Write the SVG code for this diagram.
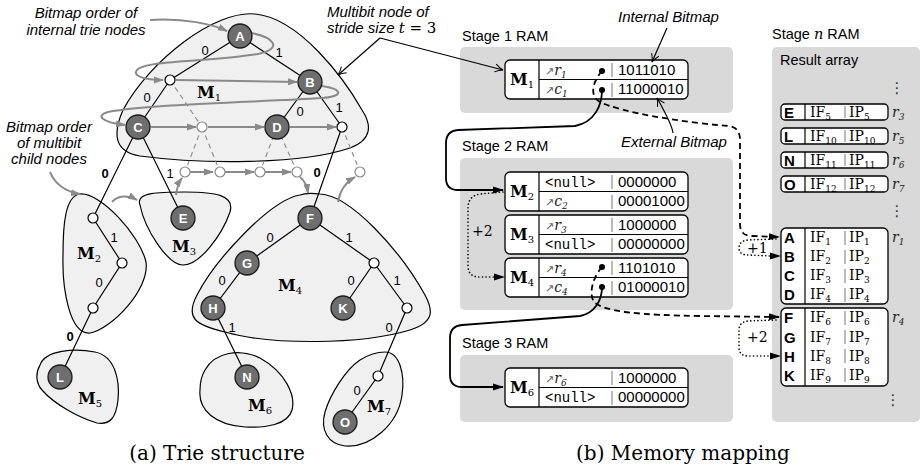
<svg xmlns="http://www.w3.org/2000/svg" width="922" height="471" viewBox="0 0 922 471">
<defs>
<marker id="ag" markerWidth="10" markerHeight="8" refX="9" refY="4" orient="auto" markerUnits="userSpaceOnUse"><path d="M0,0.5 L10,4 L0,7.5 z" fill="#8a8a8a"/></marker>
<marker id="ab" markerWidth="11" markerHeight="8" refX="10" refY="4" orient="auto" markerUnits="userSpaceOnUse"><path d="M0,0.5 L11,4 L0,7.5 z" fill="#000"/></marker>
<marker id="ao" markerWidth="10" markerHeight="10" refX="9" refY="5" orient="auto" markerUnits="userSpaceOnUse"><path d="M1,1 Q5,4 9,5 Q5,6 1,9" fill="none" stroke="#000" stroke-width="1"/></marker>
</defs>
<style>
.blob{fill:#f0f0f0;stroke:#000;stroke-width:1.2}
.n{fill:#6e6e6e;stroke:#1a1a1a;stroke-width:1.3}
.nt{font-family:"Liberation Sans",Arial,sans-serif;font-weight:bold;font-size:13px;fill:#fff;text-anchor:middle}
.s{fill:#fff;stroke:#000;stroke-width:1.2}
.sg{fill:#fff;stroke:#8a8a8a;stroke-width:1.2}
.e{stroke:#000;stroke-width:1.2;fill:none}
.ed{stroke:#8a8a8a;stroke-width:1.1;stroke-dasharray:5 4;fill:none}
.ga{stroke:#8a8a8a;stroke-width:2;fill:none;marker-end:url(#ag)}
.el{font-family:"Liberation Sans",Arial,sans-serif;font-size:13px;fill:#000;text-anchor:middle}
.ml{font-family:"DejaVu Serif",serif;font-weight:bold;font-size:16px;fill:#000}
.sub{font-size:10px;font-weight:normal}
.ann{font-family:"Liberation Sans",Arial,sans-serif;font-style:italic;font-size:15px;fill:#000}
.lab{font-family:"Liberation Sans",Arial,sans-serif;font-size:14.5px;fill:#000}
.cap{font-family:"DejaVu Serif",serif;font-size:20px;fill:#000}
.stage{fill:#d9d9d9}
.mb{fill:#fff;stroke:#000;stroke-width:1.3}
.bar{stroke:#777;stroke-width:1}
.bits{font-family:"Liberation Sans",Arial,sans-serif;font-size:15px;fill:#000}
.mono{font-family:"Liberation Mono","Courier New",monospace;font-size:14px;fill:#000}
.arr{font-family:"DejaVu Sans",sans-serif;font-size:11px;fill:#666}
.ri{font-family:"DejaVu Serif",serif;font-style:italic;font-size:14px;fill:#222}
.sb{font-size:9px}
.rl{font-family:"Liberation Sans",Arial,sans-serif;font-weight:bold;font-size:15px;fill:#000}
.sr{font-family:"DejaVu Serif",serif;font-size:14px;fill:#000}
.conn{stroke:#000;stroke-width:1.8;fill:none}
.dash{stroke:#000;stroke-width:1.8;fill:none;stroke-dasharray:6 4}
.dot{stroke:#000;stroke-width:1.6;fill:none;stroke-dasharray:0.1 3.5;stroke-linecap:round}
.vd{font-family:"DejaVu Sans",sans-serif;font-size:15px;fill:#333;text-anchor:middle}
</style>

<!-- Trie blobs -->
<g id="blobs">
<path id="blobM1" class="blob" d="M255,14 C 215,10 150,60 123,110 C 112,135 115,152 140,156 C 200,164 300,165 350,148 C 372,140 372,125 362,110 C 345,80 300,18 255,14 Z"/>
<path id="blobM2" class="blob" d="M80,194 C 100,192 140,235 146,262 C 150,290 110,330 90,333 C 70,335 62,290 63,255 C 63,225 65,196 80,194 Z"/>
<path id="blobM3" class="blob" d="M140,205 C 135,192 160,192 185,192 C 215,192 235,195 230,212 C 222,235 200,265 183,265 C 168,265 145,230 140,205 Z"/>
<path id="blobM4" class="blob" d="M300,195 C 270,200 215,260 197,295 C 185,318 195,325 225,332 C 270,345 360,345 410,330 C 435,322 433,310 425,295 C 400,250 350,195 320,194 C 312,193 305,193 300,195 Z"/>
<path id="blobM5" class="blob" d="M40,365 C 45,350 75,348 95,352 C 115,356 120,380 118,400 C 116,418 110,425 97,423 C 80,418 55,405 42,390 C 35,382 36,372 40,365 Z"/>
<path id="blobM6" class="blob" d="M205,370 C 215,352 240,348 260,358 C 285,372 296,395 292,410 C 288,425 265,428 245,427 C 215,425 198,410 200,390 C 200,382 202,375 205,370 Z"/>
<path id="blobM7" class="blob" d="M385,352 C 400,352 405,375 402,395 C 398,425 370,448 345,446 C 328,444 320,430 325,412 C 330,395 345,370 360,360 C 368,355 377,352 385,352 Z"/>
<text class="ml" x="197" y="98">M<tspan class="sub" dy="3">1</tspan></text>
<text class="ml" x="77" y="259">M<tspan class="sub" dy="3">2</tspan></text>
<text class="ml" x="172" y="252">M<tspan class="sub" dy="3">3</tspan></text>
<text class="ml" x="278" y="291">M<tspan class="sub" dy="3">4</tspan></text>
<text class="ml" x="78" y="404">M<tspan class="sub" dy="3">5</tspan></text>
<text class="ml" x="248" y="411">M<tspan class="sub" dy="3">6</tspan></text>
<text class="ml" x="367" y="412">M<tspan class="sub" dy="3">7</tspan></text>
</g>

<!-- Stage boxes -->
<g id="stage1">
<text class="lab" x="462" y="41">Stage 1 RAM</text>
<rect class="stage" x="460" y="47" width="273" height="66" rx="5"/>
</g>
<g id="stage2">
<text class="lab" x="462" y="151">Stage 2 RAM</text>
<rect class="stage" x="460" y="158" width="273" height="152" rx="5"/>
<text class="sr" x="472" y="236">+2</text>
</g>
<g id="stage3">
<text class="lab" x="462" y="348">Stage 3 RAM</text>
<rect class="stage" x="460" y="355" width="273" height="67" rx="5"/>
</g>
<g id="stagen">
<text class="lab" x="772" y="39">Stage <tspan font-family="DejaVu Serif,serif" font-style="italic">n</tspan> RAM</text>
<rect class="stage" x="772" y="47" width="148" height="375" rx="5"/>
<text class="lab" x="780" y="65">Result array</text>
<text class="vd" x="897" y="93">⋮</text>
<text class="vd" x="897" y="216">⋮</text>
<text class="vd" x="893" y="405">⋮</text>
</g>

<!-- Memory boxes -->
<g id="mem-M1">
<rect class="mb" x="505" y="60" width="183" height="39" rx="5"/>
<path class="e" d="M539,60 V99 M539,79.5 H688"/>
<path class="bar" d="M612,63 V77 M612,83 V97"/>
<text class="ml" x="510" y="85">M<tspan class="sub" dy="3">1</tspan></text>
<text x="545" y="75"><tspan class="arr">↗</tspan><tspan class="ri">r</tspan><tspan class="ri sb" dy="3">1</tspan></text>
<text x="545" y="94"><tspan class="arr">↗</tspan><tspan class="ri">c</tspan><tspan class="ri sb" dy="3">1</tspan></text>
<text class="bits" x="618" y="75">1011010</text>
<text class="bits" x="618" y="94">11000010</text>
</g>
<g id="mem-M2">
<rect class="mb" x="505" y="172" width="183" height="39" rx="5"/>
<path class="e" d="M539,172 V211 M539,191.5 H688"/>
<path class="bar" d="M612,175 V189 M612,195 V209"/>
<text class="ml" x="510" y="197">M<tspan class="sub" dy="3">2</tspan></text>
<text class="mono" x="545" y="187">&lt;null&gt;</text>
<text x="545" y="206"><tspan class="arr">↗</tspan><tspan class="ri">c</tspan><tspan class="ri sb" dy="3">2</tspan></text>
<text class="bits" x="618" y="187">0000000</text>
<text class="bits" x="618" y="206">00001000</text>
</g>
<g id="mem-M3">
<rect class="mb" x="505" y="215" width="183" height="39" rx="5"/>
<path class="e" d="M539,215 V254 M539,234.5 H688"/>
<path class="bar" d="M612,218 V232 M612,238 V252"/>
<text class="ml" x="510" y="240">M<tspan class="sub" dy="3">3</tspan></text>
<text x="545" y="230"><tspan class="arr">↗</tspan><tspan class="ri">r</tspan><tspan class="ri sb" dy="3">3</tspan></text>
<text class="mono" x="545" y="249">&lt;null&gt;</text>
<text class="bits" x="618" y="230">1000000</text>
<text class="bits" x="618" y="249">00000000</text>
</g>
<g id="mem-M4">
<rect class="mb" x="505" y="258" width="183" height="39" rx="5"/>
<path class="e" d="M539,258 V297 M539,277.5 H688"/>
<path class="bar" d="M612,261 V275 M612,281 V295"/>
<text class="ml" x="510" y="283">M<tspan class="sub" dy="3">4</tspan></text>
<text x="545" y="273"><tspan class="arr">↗</tspan><tspan class="ri">r</tspan><tspan class="ri sb" dy="3">4</tspan></text>
<text x="545" y="292"><tspan class="arr">↗</tspan><tspan class="ri">c</tspan><tspan class="ri sb" dy="3">4</tspan></text>
<text class="bits" x="618" y="273">1101010</text>
<text class="bits" x="618" y="292">01000010</text>
</g>
<g id="mem-M6">
<rect class="mb" x="505" y="368" width="183" height="39" rx="5"/>
<path class="e" d="M539,368 V407 M539,387.5 H688"/>
<path class="bar" d="M612,371 V385 M612,391 V405"/>
<text class="ml" x="510" y="393">M<tspan class="sub" dy="3">6</tspan></text>
<text x="545" y="383"><tspan class="arr">↗</tspan><tspan class="ri">r</tspan><tspan class="ri sb" dy="3">6</tspan></text>
<text class="mono" x="545" y="402">&lt;null&gt;</text>
<text class="bits" x="618" y="383">1000000</text>
<text class="bits" x="618" y="402">00000000</text>
</g>

<!-- Result array entries -->
<g id="res-E">
<rect class="mb" x="781" y="104" width="107" height="16" rx="4"/>
<path class="e" d="M805,104 V120"/><path class="bar" d="M845,106 V118"/>
<text class="rl" x="784" y="117.5">E</text>
<text class="sr" x="810" y="117">IF<tspan font-size="9px" dy="3">5</tspan></text>
<text class="sr" x="849" y="117">IP<tspan font-size="9px" dy="3">5</tspan></text>
<text class="ri" x="892" y="117">r<tspan class="sb" dy="3">3</tspan></text>
</g>
<g id="res-L">
<rect class="mb" x="781" y="128" width="107" height="16" rx="4"/>
<path class="e" d="M805,128 V144"/><path class="bar" d="M845,130 V142"/>
<text class="rl" x="784" y="141.5">L</text>
<text class="sr" x="810" y="141">IF<tspan font-size="9px" dy="3">10</tspan></text>
<text class="sr" x="849" y="141">IP<tspan font-size="9px" dy="3">10</tspan></text>
<text class="ri" x="892" y="141">r<tspan class="sb" dy="3">5</tspan></text>
</g>
<g id="res-N">
<rect class="mb" x="781" y="152" width="107" height="16" rx="4"/>
<path class="e" d="M805,152 V168"/><path class="bar" d="M845,154 V166"/>
<text class="rl" x="784" y="165.5">N</text>
<text class="sr" x="810" y="165">IF<tspan font-size="9px" dy="3">11</tspan></text>
<text class="sr" x="849" y="165">IP<tspan font-size="9px" dy="3">11</tspan></text>
<text class="ri" x="892" y="165">r<tspan class="sb" dy="3">6</tspan></text>
</g>
<g id="res-O">
<rect class="mb" x="781" y="176" width="107" height="16" rx="4"/>
<path class="e" d="M805,176 V192"/><path class="bar" d="M845,178 V190"/>
<text class="rl" x="784" y="189.5">O</text>
<text class="sr" x="810" y="189">IF<tspan font-size="9px" dy="3">12</tspan></text>
<text class="sr" x="849" y="189">IP<tspan font-size="9px" dy="3">12</tspan></text>
<text class="ri" x="892" y="189">r<tspan class="sb" dy="3">7</tspan></text>
</g>
<g id="res-ABCD">
<rect class="mb" x="781" y="228" width="107" height="76" rx="5"/>
<path class="e" d="M805,228 V304"/>
<path class="bar" d="M845,231 V245 M845,250 V264 M845,269 V283 M845,288 V302"/>
<text class="rl" x="784" y="242.5">A</text>
<text class="rl" x="784" y="261.5">B</text>
<text class="rl" x="784" y="280.5">C</text>
<text class="rl" x="784" y="299.5">D</text>
<text class="sr" x="810" y="242">IF<tspan font-size="9px" dy="3">1</tspan></text>
<text class="sr" x="810" y="261">IF<tspan font-size="9px" dy="3">2</tspan></text>
<text class="sr" x="810" y="280">IF<tspan font-size="9px" dy="3">3</tspan></text>
<text class="sr" x="810" y="299">IF<tspan font-size="9px" dy="3">4</tspan></text>
<text class="sr" x="849" y="242">IP<tspan font-size="9px" dy="3">1</tspan></text>
<text class="sr" x="849" y="261">IP<tspan font-size="9px" dy="3">2</tspan></text>
<text class="sr" x="849" y="280">IP<tspan font-size="9px" dy="3">3</tspan></text>
<text class="sr" x="849" y="299">IP<tspan font-size="9px" dy="3">4</tspan></text>
<text class="ri" x="892" y="242">r<tspan class="sb" dy="3">1</tspan></text>
</g>
<g id="res-FGHK">
<rect class="mb" x="781" y="308" width="107" height="78" rx="5"/>
<path class="e" d="M805,308 V386"/>
<path class="bar" d="M845,311 V325 M845,330 V344 M845,349 V363 M845,368 V382"/>
<text class="rl" x="784" y="322.5">F</text>
<text class="rl" x="784" y="342.5">G</text>
<text class="rl" x="784" y="361.5">H</text>
<text class="rl" x="784" y="380.5">K</text>
<text class="sr" x="810" y="322">IF<tspan font-size="9px" dy="3">6</tspan></text>
<text class="sr" x="810" y="342">IF<tspan font-size="9px" dy="3">7</tspan></text>
<text class="sr" x="810" y="361">IF<tspan font-size="9px" dy="3">8</tspan></text>
<text class="sr" x="810" y="380">IF<tspan font-size="9px" dy="3">9</tspan></text>
<text class="sr" x="849" y="322">IP<tspan font-size="9px" dy="3">6</tspan></text>
<text class="sr" x="849" y="342">IP<tspan font-size="9px" dy="3">7</tspan></text>
<text class="sr" x="849" y="361">IP<tspan font-size="9px" dy="3">8</tspan></text>
<text class="sr" x="849" y="380">IP<tspan font-size="9px" dy="3">9</tspan></text>
<text class="ri" x="892" y="322">r<tspan class="sb" dy="3">4</tspan></text>
</g>
<g id="plus-labels">
<text class="sr" x="747" y="253" fill="#444">+1</text>
<text class="sr" x="747" y="342">+2</text>
</g>

<!-- Connectors -->
<g id="connectors">
<!-- trie edges -->
<path class="e" d="M240,36 L170,80 M240,36 L310,82 M170,80 L138,127 M310,82 L277,127 M310,82 L342,127 M138,127 L93,218 M138,127 L183,218 M342,127 L310,218 M93,218 L122,263 L93,308 L60,377 M310,218 L247,263 L213,308 L247,377 M310,218 L374,263 L343,308 M374,263 L407,308 L378,376 L345,422"/>
<path class="ed" d="M170,80 L202,127 M202,127 L185,172 M202,127 L220,172 M277,127 L260,172 M277,127 L297,172 M342,127 L360,172"/>
<!-- gray order arrows -->
<path class="ga" d="M150,20 C 185,18 212,24 227,31"/>
<path class="ga" d="M251,33 C 272,37 285,48 258,54 C 210,62 150,60 138,69 C 130,76 145,80 163,80"/>
<path class="ga" d="M176,80 L297,82"/>
<path class="ga" d="M322,86 C 342,89 345,96 322,98 C 260,102 150,104 108,112 C 96,115 100,122 125,125"/>
<path class="ga" d="M151,127 L196,127"/>
<path class="ga" d="M208,127 L264,127"/>
<path class="ga" d="M290,127 L336,127"/>
<path class="ga" d="M190,172 L213,172"/>
<path class="ga" d="M225,172 L254,172"/>
<path class="ga" d="M265,172 L291,172"/>
<path class="ga" d="M300,177 C 305,181 307,186 308,193"/>
<path class="ga" d="M338,202 C 340,190 346,182 355,177"/>
<path class="ga" d="M50,172 C 55,184 66,192 80,194"/>
<path class="ga" d="M112,202 C 118,195 128,195 137,200"/>
<path class="ga" d="M176,195 C 177,187 179,182 182,178"/>
<!-- annotation arrows -->
<path class="e" d="M380,38 L338,75" marker-end="url(#ao)"/>
<path class="e" d="M380,38 L503,70" marker-end="url(#ao)"/>
<path class="e" d="M667,28 L652,62" marker-end="url(#ao)"/>
<path class="e" d="M673,133 C 672,125 665,112 657,98" marker-end="url(#ao)"/>
<!-- memory mapping -->
<path class="dash" d="M602,71 C 594,80 588,95 600,102 C 620,112 680,122 728,126 Q 740,127 740,140 L 740,224 Q 740,236 752,236 L 779,237" marker-end="url(#ab)"/>
<path class="conn" d="M602,90 C 602,105 595,122 575,126 L 458,130 Q 446,131 446,143 L 446,178 Q 446,190 458,190 L 503,190" marker-end="url(#ab)"/>
<path class="dot" d="M503,192 L 480,194 Q 468,196 468,208 L 468,266 Q 468,277 480,277 L 494,277"/>
<path d="M494,273.5 L505,277 L494,280.5 z" fill="#000"/>
<path class="dash" d="M602,267 C 594,276 588,292 594,302 C 605,312 640,315 700,316 L 779,317" marker-end="url(#ab)"/>
<path class="conn" d="M602,287 C 602,300 595,313 580,316 L 462,325 Q 450,326 450,338 L 450,375 Q 450,387 462,387 L 503,387" marker-end="url(#ab)"/>
<path class="dot" d="M776,239 L 748,240 Q 739,241 739,248 Q 739,255 748,255 L 770,256"/>
<path d="M770,252.5 L781,256 L770,259.5 z" fill="#000"/>
<path class="dot" d="M776,320 L 748,321 Q 739,322 739,330 L 739,347 Q 739,356 748,356 L 770,356"/>
<path d="M770,352.5 L781,356 L770,359.5 z" fill="#000"/>
<circle cx="602" cy="71" r="3"/><circle cx="602" cy="90" r="3"/>
<circle cx="602" cy="267" r="3"/><circle cx="602" cy="287" r="3"/>
</g>

<!-- Trie nodes -->
<g id="nA"><circle class="n" cx="240" cy="36" r="12"/><text class="nt" x="240" y="40.5">A</text></g>
<g id="nB"><circle class="n" cx="310" cy="82" r="12"/><text class="nt" x="310" y="86.5">B</text></g>
<g id="nC"><circle class="n" cx="138" cy="127" r="12"/><text class="nt" x="138" y="131.5">C</text></g>
<g id="nD"><circle class="n" cx="277" cy="127" r="12"/><text class="nt" x="277" y="131.5">D</text></g>
<g id="nE"><circle class="n" cx="183" cy="218" r="12"/><text class="nt" x="183" y="222.5">E</text></g>
<g id="nF"><circle class="n" cx="310" cy="218" r="12"/><text class="nt" x="310" y="222.5">F</text></g>
<g id="nG"><circle class="n" cx="247" cy="263" r="12"/><text class="nt" x="247" y="267.5">G</text></g>
<g id="nH"><circle class="n" cx="213" cy="308" r="12"/><text class="nt" x="213" y="312.5">H</text></g>
<g id="nK"><circle class="n" cx="343" cy="308" r="12"/><text class="nt" x="343" y="312.5">K</text></g>
<g id="nL"><circle class="n" cx="60" cy="377" r="12"/><text class="nt" x="60" y="381.5">L</text></g>
<g id="nN"><circle class="n" cx="247" cy="377" r="12"/><text class="nt" x="247" y="381.5">N</text></g>
<g id="nO"><circle class="n" cx="345" cy="422" r="12"/><text class="nt" x="345" y="426.5">O</text></g>
<g id="smallnodes">
<circle class="s" cx="170" cy="80" r="5"/>
<circle class="sg" cx="202" cy="127" r="5"/>
<circle class="s" cx="342" cy="127" r="5"/>
<circle class="sg" cx="185" cy="172" r="5"/>
<circle class="sg" cx="220" cy="172" r="5"/>
<circle class="sg" cx="260" cy="172" r="5"/>
<circle class="sg" cx="297" cy="172" r="5"/>
<circle class="sg" cx="360" cy="172" r="5"/>
<circle class="s" cx="93" cy="218" r="5"/>
<circle class="s" cx="122" cy="263" r="5"/>
<circle class="s" cx="93" cy="308" r="5"/>
<circle class="s" cx="374" cy="263" r="5"/>
<circle class="s" cx="407" cy="308" r="5"/>
<circle class="s" cx="378" cy="376" r="5"/>
</g>
<g id="edgelabels">
<text class="el" x="205" y="55">0</text>
<text class="el" x="279" y="57">1</text>
<text class="el" x="147" y="102">0</text>
<text class="el" x="300" y="116">0</text>
<text class="el" x="339" y="112">1</text>
<text class="el" x="105" y="178" font-weight="bold">0</text>
<text class="el" x="170" y="178">1</text>
<text class="el" x="317" y="177" font-weight="bold">0</text>
<text class="el" x="114" y="242">1</text>
<text class="el" x="99" y="287">0</text>
<text class="el" x="70" y="341" font-weight="bold">0</text>
<text class="el" x="270" y="242">0</text>
<text class="el" x="349" y="242">1</text>
<text class="el" x="222" y="285">0</text>
<text class="el" x="351" y="285">0</text>
<text class="el" x="397" y="285">1</text>
<text class="el" x="232" y="332">1</text>
<text class="el" x="389" y="332">0</text>
<text class="el" x="357" y="395">0</text>
</g>

<!-- annotations -->
<g id="annotations">
<text class="ann" x="86" y="18" text-anchor="middle">Bitmap order of</text>
<text class="ann" x="86" y="35" text-anchor="middle">internal trie nodes</text>
<text class="ann" x="49" y="132" text-anchor="middle">Bitmap order</text>
<text class="ann" x="49" y="148" text-anchor="middle">of multibit</text>
<text class="ann" x="49" y="164" text-anchor="middle">child nodes</text>
<text class="ann" x="327" y="17">Multibit node of</text>
<text class="ann" x="327" y="33">stride size <tspan font-family="DejaVu Serif,serif" font-size="15px">t</tspan><tspan font-family="DejaVu Serif,serif" font-style="normal" font-size="15px"> = 3</tspan></text>
<text class="ann" x="618" y="22">Internal Bitmap</text>
<text class="ann" x="621" y="147">External Bitmap</text>
</g>

<!-- captions -->
<text class="cap" x="217" y="460" text-anchor="middle">(a) Trie structure</text>
<text class="cap" x="683" y="460" text-anchor="middle">(b) Memory mapping</text>
</svg>
